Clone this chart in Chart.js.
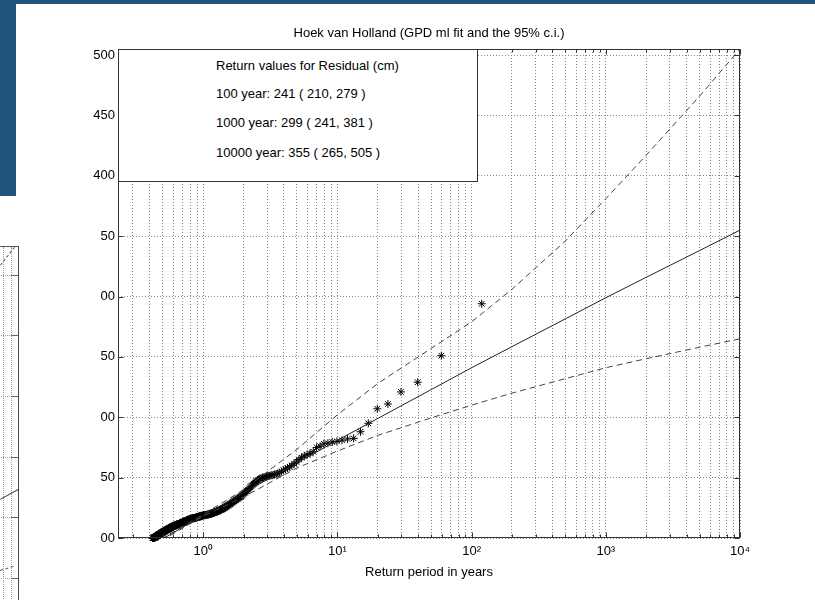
<!DOCTYPE html>
<html><head><meta charset="utf-8">
<script src="https://cdn.jsdelivr.net/npm/chart.js@4.4.1/dist/chart.umd.min.js"></script>
<style>
html,body{margin:0;padding:0;background:#fff;}
#wrap{position:relative;width:815px;height:600px;overflow:hidden;font-family:"Liberation Sans",Arial,sans-serif;}
#c{position:absolute;left:0;top:0;}
.blue{position:absolute;background:#20547c;}
#cover{position:absolute;left:0;top:196px;width:100px;height:404px;background:#fff;overflow:hidden;}
#frag{position:absolute;left:-2px;top:50px;width:20px;height:400px;border-top:1px solid #555;border-right:1px solid #444;}
.fv{position:absolute;top:0;bottom:0;width:0;border-left:1px dotted #999;}
.fh{position:absolute;left:0;right:0;height:0;border-top:1px dotted #999;}
.ft{position:absolute;right:0;width:7px;height:0;border-top:1px solid #666;}
.fl{position:absolute;left:0;height:0;transform-origin:0 0;}
#box{position:absolute;left:118px;top:49px;width:360px;height:133px;box-sizing:border-box;border:1px solid #333;background:#fff;font-size:13px;color:#000;}
#box div{position:absolute;left:97px;white-space:nowrap;line-height:15px;}
</style></head><body>
<div id="wrap">
<canvas id="c" width="815" height="600" style="width:815px;height:600px"></canvas>
<div id="box">
  <div style="top:8px">Return values for Residual (cm)</div>
  <div style="top:36px">100 year: 241 ( 210, 279 )</div>
  <div style="top:65px">1000 year: 299 ( 241, 381 )</div>
  <div style="top:95px">10000 year: 355 ( 265, 505 )</div>
</div>
<div class="blue" style="left:0;top:0;width:815px;height:4px"></div>
<div class="blue" style="left:0;top:0;width:16px;height:196px"></div>
<div id="cover">
  <div id="frag">
    <div class="fv" style="left:5px"></div>
    <div class="fv" style="left:13px"></div>
    <div class="fh" style="top:28px"></div><div class="ft" style="top:28px"></div>
    <div class="fh" style="top:88px"></div><div class="ft" style="top:88px"></div>
    <div class="fh" style="top:149px"></div><div class="ft" style="top:149px"></div>
    <div class="fh" style="top:210px"></div><div class="ft" style="top:210px"></div>
    <div class="fh" style="top:270px"></div><div class="ft" style="top:270px"></div>
    <div class="fh" style="top:331px"></div><div class="ft" style="top:331px"></div>
  </div>
  <div class="fl" style="top:69px;width:23px;border-top:1px dashed #555;transform:rotate(-52deg)"></div>
  <div class="fl" style="top:303px;width:21px;border-top:1px solid #444;transform:rotate(-29deg)"></div>
  <div class="fl" style="top:374px;width:14px;border-top:1px dashed #555;transform:rotate(-17deg)"></div>
</div>
</div>
<script>
// ---- data ----
const recordYears = 119; // empirical return period = recordYears / rank
// observed residual exceedances (cm), sorted descending by rank
const residual = [
 294,251,229,221,211,207,195,188,182.5,182,
 181,180,179.5,178.5,178,176,175,171.5,170,169,
 168,166.5,165,163,161.5,160,159,158,157,156,
 155,154,153.5,153,152.5,152,152,151.5,151.5,151,
 150.5,150,150,149.5,149,148,147.5,147,146,145,
 144,143,142,141,140,139,138.5,137.5,137,136,
 135,134.5,134,133.5,133,132.5,132,131.5,131,130.5,
 130,129.5,129,128.5,128,127.5,127,127,126.5,126,
 125.5,125,125,124.5,124,124,123.5,123.5,123,123,
 122.5,122.5,122,122,122,121.5,121.5,121,121,121,
 120.5,120.5,120.5,120,120,120,120,119.5,119.5,119.5,
 119.5,119,119,119,119,119,119,119,118.5,
 118.5,118.5,118.5,118,118,118,118,118,117.5,117.5,
 117.5,117.5,117,117,117,117,117,116.5,116.5,116.5,
 116.5,116.5,116.5,116,116,116,116,116,115.5,115.5,
 115.5,115.5,115,115,115,115,114.5,114.5,114.5,114.5,
 114,114,114,113.5,113.5,113.5,113.5,113,113,113,113,
 112.5,112.5,112.5,112.5,112,112,112,112,111.5,111.5,
 111.5,111.5,111.5,111,111,111,111,111,110.5,110.5,
 110.5,110.5,110.5,110.5,110,110,110,110,109.5,109.5,
 109.5,109.5,109,109,109,109,108.5,108.5,108.5,108.5,
 108,108,108,108,107.5,107.5,107.5,107.5,107,107,
 107,107,106.5,106.5,106.5,106.5,106,106,106,106,
 105.5,105.5,105.5,105.5,105,105,105,105,104.5,104.5,
 104.5,104.5,104,104,104,104,103.5,103.5,103.5,103.5,
 103,103,103,103,102.5,102.5,102.5,102.5,102,102,
 102,102,101.5,101.5,101.5,101.5,101,101,101,101,
 100.5,100.5,100.5,100.5,100.5,100.5,100,100,100,100,100,100,100
];
// GPD fit and 95% confidence interval
const curvePeriod = [0.42,0.5,1,2,5,10,20,50,100,200,500,1000,2000,5000,10000];
const fitLevel    = [94.4,99.3,118.7,137.4,162.2,180.9,199,222.9,241,258.5,281.5,299,315.9,338.1,355];
const upperLevel  = [95,100,119.5,140,173.5,202,228,257,279,306,346,381,417,466,505];
const lowerLevel  = [94,98.5,118,134,158,172,185,199.5,210,220,232,241,248.5,258,265];
// axes
const xTickValues = [0.3,0.4,0.5,0.6,0.7,0.8,0.9,1,2,3,4,5,6,7,8,9,10,20,30,40,50,60,70,80,90,
  100,200,300,400,500,600,700,800,900,1000,2000,3000,4000,5000,6000,7000,8000,9000,10000];
const xTickLabels = {1:'10\u2070',10:'10\u00B9',100:'10\u00B2',1000:'10\u00B3',10000:'10\u2074'};
const yTickValues = [100,150,200,250,300,350,400,450,500];

// ---- chart ----
const FONT = '"Liberation Sans", Arial, sans-serif';
Chart.defaults.font.family = FONT;
Chart.defaults.font.size = 13;
Chart.defaults.color = '#000';

const pts = residual.map((v,i)=>({x: recordYears/(i+1), y: v}));
const mk = arr => curvePeriod.map((t,i)=>({x:t, y:arr[i]}));

const framePlugin = {
  id:'frame',
  afterDatasetsDraw(chart){
    const {ctx, chartArea:a, scales:{x,y}} = chart;
    const L = Math.round(a.left)+0.5, R = Math.round(a.right)-0.5, T = Math.round(a.top)+0.5, B = Math.round(a.bottom)-0.5;
    ctx.save();
    ctx.strokeStyle = '#333'; ctx.lineWidth = 1; ctx.setLineDash([]);
    ctx.beginPath();
    xTickValues.forEach(v=>{
      const px = Math.round(x.getPixelForValue(v))+0.5;
      const len = xTickLabels[v] ? 5 : 3;
      ctx.moveTo(px,B); ctx.lineTo(px,B-len);
      ctx.moveTo(px,T); ctx.lineTo(px,T+len);
    });
    yTickValues.forEach(v=>{
      const py = Math.round(y.getPixelForValue(v))+0.5;
      ctx.moveTo(L,py); ctx.lineTo(L+5,py);
      ctx.moveTo(R,py); ctx.lineTo(R-5,py);
    });
    ctx.stroke();
    ctx.strokeRect(L,T,R-L,B-T);
    ctx.restore();
  }
};

new Chart(document.getElementById('c'), {
  type:'scatter',
  data:{datasets:[
    {data:mk(upperLevel), showLine:true, borderColor:'#444', borderWidth:1, borderDash:[6,4], pointRadius:0, fill:false},
    {data:mk(lowerLevel), showLine:true, borderColor:'#444', borderWidth:1, borderDash:[6,4], pointRadius:0, fill:false},
    {data:mk(fitLevel), showLine:true, borderColor:'#222', borderWidth:1, pointRadius:0, fill:false},
    {data:pts, showLine:false, pointStyle:'star', pointRadius:4, borderColor:'#000', borderWidth:1, backgroundColor:'rgba(0,0,0,0)', clip:{left:5,top:0,right:0,bottom:5}}
  ]},
  options:{
    responsive:false, animation:false, devicePixelRatio:1,
    layout:{padding:{left:0,top:0,right:75,bottom:0}},
    plugins:{
      legend:{display:false}, tooltip:{enabled:false},
      title:{display:true, fullSize:false, text:'Hoek van Holland (GPD ml fit and the 95% c.i.)', color:'#000',
        font:{size:13, weight:'normal', family:FONT}, padding:{top:26,bottom:7.4}}
    },
    scales:{
      x:{type:'logarithmic', min:0.232, max:10000,
        afterBuildTicks:s=>{s.ticks = xTickValues.map(v=>({value:v}));},
        afterFit:s=>{s.height = 62;},
        ticks:{autoSkip:false, maxRotation:0, minRotation:0, padding:6, color:'#000',
          callback:v=>xTickLabels[v]||''},
        grid:{color:'#8a8a8a', lineWidth:1, drawTicks:false},
        border:{display:false, dash:[1,2]},
        title:{display:true, text:'Return period in years', color:'#000', font:{size:13}, padding:{top:0,bottom:20}}
      },
      y:{type:'linear', min:100, max:505,
        afterBuildTicks:s=>{s.ticks = yTickValues.map(v=>({value:v}));},
        afterFit:s=>{s.width = 118;},
        ticks:{padding:3, color:'#000', callback:v=>String(v)},
        grid:{color:'#8a8a8a', lineWidth:1, drawTicks:false},
        border:{display:false, dash:[1,2]}
      }
    }
  },
  plugins:[framePlugin]
});
</script>
</body></html>
